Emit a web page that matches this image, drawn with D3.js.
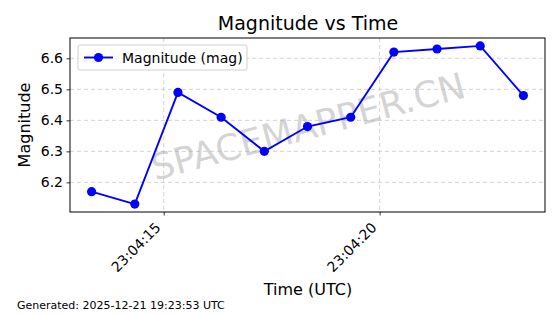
<!DOCTYPE html>
<html><head><meta charset="utf-8">
<script src="https://cdn.jsdelivr.net/npm/d3@7"></script>
<style>body{margin:0;background:#fff}svg{display:block;font-family:"DejaVu Sans",sans-serif}</style>
</head><body><svg id="c" width="560" height="314"></svg>
<script>
const seconds = [13.33, 14.33, 15.33, 16.33, 17.33, 18.33, 19.33, 20.33, 21.33, 22.33, 23.33];
const magnitudes = [6.17, 6.13, 6.49, 6.41, 6.30, 6.38, 6.41, 6.62, 6.63, 6.64, 6.48];
const yTicks = [6.2, 6.3, 6.4, 6.5, 6.6];
const xTicks = [15, 20];
const xTickLabels = ["23:04:15", "23:04:20"];

const svg = d3.select("#c");
const L = 70, R = 545, T = 38, B = 212;
const xs = d3.scaleLinear().domain([12.83, 23.83]).range([L, R]);
const ys = d3.scaleLinear().domain([6.1045, 6.6655]).range([B, T]);
const blue = "#0000ff";

// grid
svg.append("g").selectAll("line").data(yTicks).join("line")
  .attr("x1", L).attr("x2", R).attr("y1", d => ys(d)).attr("y2", d => ys(d))
  .attr("stroke", "#b0b0b0").attr("stroke-opacity", 0.7).attr("stroke-dasharray", "4,3").attr("stroke-width", 0.8);
svg.append("g").selectAll("line").data(xTicks).join("line")
  .attr("y1", T).attr("y2", B).attr("x1", d => xs(d)).attr("x2", d => xs(d))
  .attr("stroke", "#b0b0b0").attr("stroke-opacity", 0.7).attr("stroke-dasharray", "4,3").attr("stroke-width", 0.8);

// watermark
svg.append("text").attr("x", 308).attr("y", 139).attr("text-anchor", "middle")
  .attr("transform", "rotate(-15,308,126)")
  .attr("font-size", 36).attr("fill", "#aaa").attr("fill-opacity", 0.5).text("SPACEMAPPER.CN");

// axes
const yAxis = svg.append("g").attr("transform", `translate(${L},0)`)
  .call(d3.axisLeft(ys).tickValues(yTicks).tickFormat(d3.format(".1f")).tickSize(3.5).tickPadding(3.5));
yAxis.select(".domain").remove();
yAxis.selectAll("text").attr("font-size", 14).attr("fill", "#000").attr("font-family", "DejaVu Sans");
yAxis.selectAll("line").attr("stroke", "#000").attr("stroke-width", 0.8);

const xAxis = svg.append("g").attr("transform", `translate(0,${B})`)
  .call(d3.axisBottom(xs).tickValues(xTicks).tickFormat((d, i) => xTickLabels[i]).tickSize(3.5));
xAxis.select(".domain").remove();
xAxis.selectAll("line").attr("stroke", "#000").attr("stroke-width", 0.8);
xAxis.selectAll("text").attr("font-size", 14).attr("fill", "#000").attr("font-family", "DejaVu Sans")
  .attr("text-anchor", "end").attr("dy", "0.35em").attr("y", 0)
  .attr("transform", "translate(-6,13) rotate(-45)");

svg.append("rect").attr("x", L).attr("y", T).attr("width", R - L).attr("height", B - T)
  .attr("fill", "none").attr("stroke", "#000").attr("stroke-width", 1);

// line
svg.append("path").datum(seconds.map((s, i) => [s, magnitudes[i]]))
  .attr("d", d3.line().x(d => xs(d[0])).y(d => ys(d[1])))
  .attr("fill", "none").attr("stroke", blue).attr("stroke-width", 1.9);
svg.append("g").selectAll("circle").data(seconds).join("circle")
  .attr("cx", d => xs(d)).attr("cy", (d, i) => ys(magnitudes[i])).attr("r", 4.6).attr("fill", blue);

// legend
const lg = svg.append("g");
lg.append("rect").attr("x", 78).attr("y", 45).attr("width", 169).attr("height", 25).attr("rx", 2)
  .attr("fill", "#fff").attr("fill-opacity", 0.8).attr("stroke", "#d0d0d0");
lg.append("line").attr("x1", 84).attr("x2", 113).attr("y1", 57.5).attr("y2", 57.5).attr("stroke", blue).attr("stroke-width", 1.9);
lg.append("circle").attr("cx", 98.5).attr("cy", 57.5).attr("r", 4.6).attr("fill", blue);
lg.append("text").attr("x", 122).attr("y", 62.5).attr("font-size", 14).text("Magnitude (mag)");

// titles
svg.append("text").attr("x", 308).attr("y", 30).attr("text-anchor", "middle").attr("font-size", 19).text("Magnitude vs Time");
svg.append("text").attr("x", 308).attr("y", 295).attr("text-anchor", "middle").attr("font-size", 16).text("Time (UTC)");
svg.append("text").attr("transform", "translate(30,125) rotate(-90)").attr("text-anchor", "middle").attr("font-size", 16).text("Magnitude");
svg.append("text").attr("x", 17).attr("y", 309).attr("font-size", 11).text("Generated: 2025-12-21 19:23:53 UTC");
</script></body></html>
